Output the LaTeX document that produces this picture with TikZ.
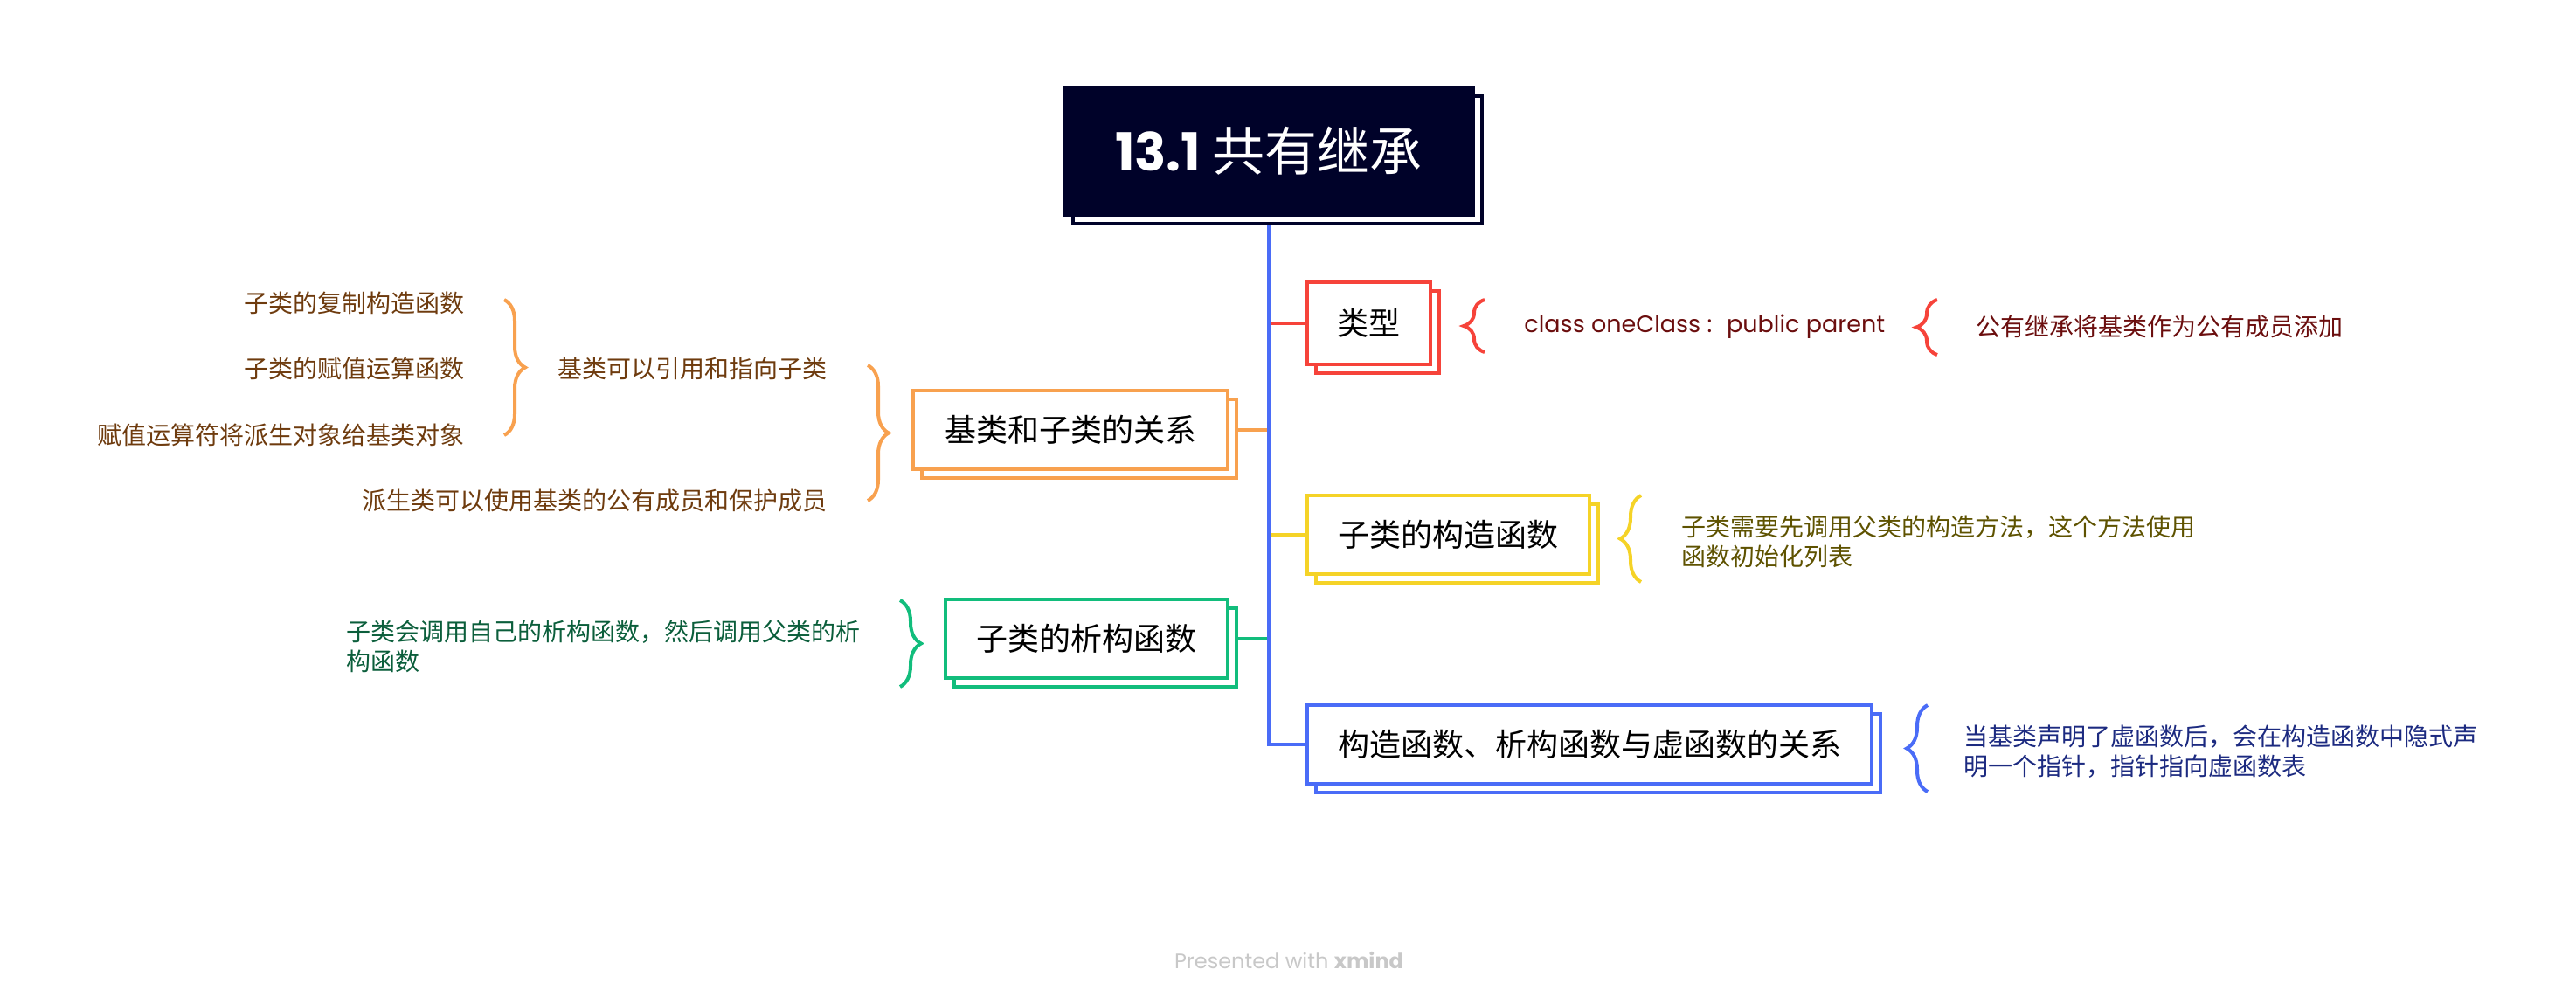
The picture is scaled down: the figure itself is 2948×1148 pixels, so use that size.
\documentclass[tikz,border=0pt]{standalone}
\usepackage{fontspec}
\setmainfont{Noto Sans CJK SC}
\newfontfamily\latin{Poppins}
\usetikzlibrary{shadows,backgrounds,decorations.pathreplacing}

\definecolor{rootcol}{HTML}{000229}
\definecolor{bluecol}{HTML}{4A6CF7}
\definecolor{redcol}{HTML}{F6433A}
\definecolor{orangecol}{HTML}{F8A14F}
\definecolor{yellowcol}{HTML}{F5D327}
\definecolor{greencol}{HTML}{12BD7C}
\definecolor{redtext}{HTML}{6B0E0E}
\definecolor{browntext}{HTML}{6E3B0E}
\definecolor{olivetext}{HTML}{5E5200}
\definecolor{greentext}{HTML}{0B5E3B}
\definecolor{navytext}{HTML}{1C2A80}
\definecolor{footgray}{HTML}{C8C8C8}

\begin{document}
\begin{tikzpicture}[x=0.5pt, y=-0.5pt,
                    box/.style={draw=#1, line width=2pt, fill=white, inner sep=0pt,
                                minimum height=45pt, font=\fontsize{18}{22}\selectfont,
                                general shadow={draw=#1, fill=white, line width=2pt,
                                                shadow xshift=5pt, shadow yshift=-5pt}},
                    link/.style={draw=#1, line width=2pt},
                    leaf/.style={inner sep=0pt, text=#1, font=\fontsize{14}{17}\selectfont, align=left},
                    curly/.style={draw=#1, line width=2pt, decorate,
                                  decoration={brace, amplitude=12pt}}]
    \useasboundingbox (0,0) rectangle (2948,1148);

    % main topic
    \node[box=rootcol, fill=rootcol, text=white, minimum width=234pt, minimum height=73pt,
          font=\fontsize{30}{36}\selectfont] (root) at (1452,173) {{\latin\bfseries 13.1} 共有继承};

    % right side
    \node[box=redcol, minimum width=70.5pt, minimum height=47pt] (type) at (1566,370) {类型};
    \node[box=yellowcol, minimum width=161.5pt] (ctor) at (1657,612) {子类的构造函数};
    \node[box=bluecol, minimum width=323pt] (rel) at (1819,852) {构造函数、析构函数与虚函数的关系};

    % left side
    \node[box=orangecol, minimum width=180pt] (base) at (1225,492) {基类和子类的关系};
    \node[box=greencol, minimum width=161.5pt] (dtor) at (1243,731) {子类的析构函数};

    % leaves
    \node[leaf=redtext, anchor=west, font=\latin\fontsize{13.5}{17}\selectfont] (tclass) at (1744,374) {class oneClass : \ public parent};
    \node[leaf=redtext, anchor=west] (tpub) at (2261,374) {公有继承将基类作为公有成员添加};
    \node[leaf=olivetext, anchor=west] (tinit) at (1924,620) {子类需要先调用父类的构造方法，这个方法使用\\函数初始化列表};
    \node[leaf=navytext, anchor=west] (tvptr) at (2247,860) {当基类声明了虚函数后，会在构造函数中隐式声\\明一个指针，指针指向虚函数表};
    \node[leaf=greentext, anchor=west] (tsub) at (396,740) {子类会调用自己的析构函数，然后调用父类的析\\构函数};
    \node[leaf=browntext, anchor=east] (tref) at (947,422) {基类可以引用和指向子类};
    \node[leaf=browntext, anchor=east] (tuse) at (947,573) {派生类可以使用基类的公有成员和保护成员};
    \node[leaf=browntext, anchor=east] (tcopy) at (532,347) {子类的复制构造函数};
    \node[leaf=browntext, anchor=east] (tassign) at (532,422) {子类的赋值运算函数};
    \node[leaf=browntext, anchor=east] (tslice) at (532,498) {赋值运算符将派生对象给基类对象};

    % braces
    \draw[curly=redcol] (1699,403) -- (1699,343);
    \draw[curly=redcol] (2217,406) -- (2217,343);
    \draw[curly=yellowcol] (1878,666) -- (1878,567);
    \draw[curly=bluecol] (2206,906) -- (2206,807);
    \draw[curly=greencol] (1030,687) -- (1030,786);
    \draw[curly=orangecol] (993,418) -- (993,573);
    \draw[curly=orangecol] (577,343) -- (577,498);

    \node[font=\latin\fontsize{12}{14}\selectfont, text=footgray] (credit) at (1475,1099) {Presented with \textbf{xmind}};

    \begin{scope}[on background layer]
        \draw[link=redcol] (root.south |- type.west) -- (type.west);
        \draw[link=yellowcol] (root.south |- ctor.west) -- (ctor.west);
        \draw[link=orangecol] (root.south |- base.east) -- (base.east);
        \draw[link=greencol] (root.south |- dtor.east) -- (dtor.east);
        \draw[link=bluecol] (root.south) |- (rel.west);
    \end{scope}
\end{tikzpicture}
\end{document}
